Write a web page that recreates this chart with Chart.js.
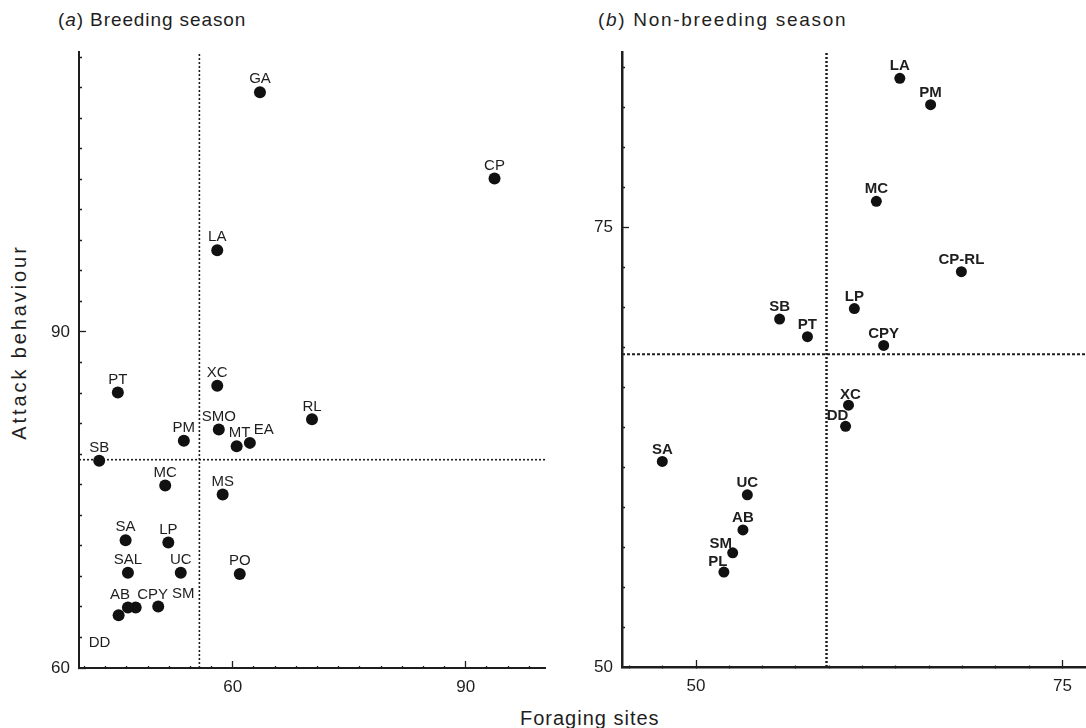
<!DOCTYPE html>
<html>
<head>
<meta charset="utf-8">
<script src="https://cdn.jsdelivr.net/npm/chart.js@4.4.1/dist/chart.umd.min.js"></script>
<style>
  body { margin: 0; background: #fff; width: 1086px; height: 728px; position: relative; overflow: hidden;
         font-family: "Liberation Sans", Arial, sans-serif; color: #1e1e1e; }
  canvas { position: absolute; top: 0; }
  #chartA { left: 0; }
  #chartB { left: 560px; }
  .txt { position: absolute; white-space: nowrap; }
  #titleA { left: 58px; top: 10px; font-size: 19px; line-height: 19px; letter-spacing: 0.9px; }
  #titleB { left: 598px; top: 10px; font-size: 19px; line-height: 19px; letter-spacing: 1.7px; }
  #xTitle { left: 520px; top: 708px; font-size: 20px; line-height: 20px; letter-spacing: 1px; }
  #yTitle { left: 19px; top: 342px; font-size: 20px; line-height: 20px; letter-spacing: 2.9px;
            transform: translate(-50%, -50%) rotate(-90deg); }
</style>
</head>
<body>
<div class="txt" id="titleA">(<i>a</i>) Breeding season</div>
<div class="txt" id="titleB">(<i>b</i>) Non-breeding season</div>
<div class="txt" id="xTitle">Foraging sites</div>
<div class="txt" id="yTitle">Attack behaviour</div>
<canvas id="chartA" width="560" height="728"></canvas>
<canvas id="chartB" width="526" height="728"></canvas>
<script>
// (a) breeding season
const speciesA = ['GA', 'CP', 'LA', 'XC', 'PT', 'RL', 'SMO', 'PM', 'MT', 'EA', 'SB',
                  'MC', 'MS', 'SA', 'LP', 'SAL', 'UC', 'PO', 'AB', 'CPY', 'SM', 'DD'];
const sitesA  = [63.5, 93.7, 58.0, 58.0, 45.2, 70.2, 58.2, 53.7, 60.5, 62.2, 42.8,
                 51.3, 58.7, 46.2, 51.7, 46.5, 53.3, 60.9, 46.5, 47.5, 50.4, 45.3];
const attackA = [111.4, 103.7, 97.3, 85.2, 84.6, 82.2, 81.3, 80.3, 79.8, 80.1, 78.5,
                 76.3, 75.5, 71.4, 71.2, 68.5, 68.5, 68.4, 65.4, 65.4, 65.5, 64.7];
const cutA = [55.7, 78.6];          // median foraging, median attack
const majorA = [60, 90];

// (b) non-breeding season
const speciesB = ['LA', 'PM', 'MC', 'CP-RL', 'LP', 'SB', 'PT', 'CPY', 'XC', 'DD',
                  'SA', 'UC', 'AB', 'SM', 'PL'];
const sitesB  = [63.9, 66.0, 62.3, 68.1, 60.8, 55.7, 57.6, 62.8, 60.4, 60.2,
                 47.7, 53.5, 53.2, 52.5, 51.9];
const attackB = [83.5, 82.0, 76.5, 72.5, 70.4, 69.8, 68.8, 68.3, 64.9, 63.7,
                 61.7, 59.8, 57.8, 56.5, 55.4];
const cutB = [58.9, 67.8];
const majorB = [50, 75];

// label nudges (px) for crowded spots
const nudgeA = { AB: [-8, 0], CPY: [17, 0], SM: [25, 0], DD: [-19, 40], MT: [3, 0], EA: [14, 0] };
const nudgeB = { DD: [-8, 2], SM: [-12, 3], PL: [-6, 2], XC: [2, 2] };

const ink = '#1e1e1e';

function tickList(major, min, max) {
  const step = (major[1] - major[0]) / 11;
  const out = [];
  for (let v = major[0]; v >= min - 1e-6; v -= step) out.push(v);
  for (let v = major[0] + step; v <= max + 1e-6; v += step) out.push(v);
  return out.sort((a, b) => a - b);
}

function isMajor(v, major) {
  return major.some(m => Math.abs(m - v) < 0.01);
}

function labelPlugin(names, nudge, font, lift) {
  return {
    id: 'pointLabels',
    afterDatasetsDraw(chart) {
      const ctx = chart.ctx;
      const meta = chart.getDatasetMeta(0);
      ctx.save();
      ctx.font = font;
      ctx.fillStyle = ink;
      ctx.textAlign = 'center';
      ctx.textBaseline = 'middle';
      meta.data.forEach((pt, i) => {
        const n = nudge[names[i]] || [0, 0];
        ctx.fillText(names[i], pt.x + n[0], pt.y - lift + n[1]);
      });
      ctx.restore();
    }
  };
}

function axis(major, min, max, horizontal, size, borderW) {
  const vals = tickList(major, min, max);
  return {
    type: 'linear',
    min: min,
    max: max,
    afterBuildTicks: s => { s.ticks = vals.map(v => ({ value: v })); },
    afterFit: s => {
      if (horizontal) s.height = size; else s.width = size;
      s.paddingLeft = s.paddingRight = s.paddingTop = s.paddingBottom = 0;
    },
    border: { color: ink, width: borderW },
    grid: {
      drawOnChartArea: false,
      tickLength: -7,
      tickColor: ink,
      tickWidth: 1.3,
      tickBorderDash: c => (c.tick && isMajor(c.tick.value, major)) ? [] : (horizontal ? [3, 100] : [0, 4, 3, 100])
    },
    ticks: {
      autoSkip: false,
      maxRotation: 0,
      padding: 16,
      color: ink,
      font: { family: '"Liberation Sans", Arial, sans-serif', size: 17 },
      callback: v => isMajor(v, major) ? String(Math.round(v)) : ''
    }
  };
}

function makeChart(id, cfg) {
  const pts = cfg.x.map((x, i) => ({ x: x, y: cfg.y[i] }));
  new Chart(document.getElementById(id), {
    type: 'scatter',
    data: {
      datasets: [
        { data: pts, pointRadius: cfg.radius, pointBackgroundColor: '#111', pointBorderWidth: 0 },
        { type: 'line', data: [{ x: cfg.cut[0], y: cfg.ymin }, { x: cfg.cut[0], y: cfg.ymax }],
          borderColor: ink, borderWidth: cfg.vWidth, borderDash: [2, 2], pointRadius: 0, fill: false },
        { type: 'line', data: [{ x: cfg.xmin, y: cfg.cut[1] }, { x: cfg.xmax, y: cfg.cut[1] }],
          borderColor: ink, borderWidth: cfg.hWidth, borderDash: cfg.hDash, pointRadius: 0, fill: false }
      ]
    },
    options: {
      responsive: false,
      animation: false,
      layout: { padding: cfg.pad, autoPadding: false },
      plugins: { legend: { display: false }, tooltip: { enabled: false } },
      scales: {
        x: axis(cfg.major, cfg.xmin, cfg.xmax, true, cfg.xh, cfg.borderW),
        y: axis(cfg.major, cfg.ymin, cfg.ymax, false, cfg.yw, cfg.borderW)
      }
    },
    plugins: [labelPlugin(cfg.names, cfg.nudge, cfg.font, cfg.lift)]
  });
}

makeChart('chartA', {
  names: speciesA, x: sitesA, y: attackA, cut: cutA, major: majorA,
  xmin: 40.2, xmax: 100.2, ymin: 60, ymax: 115,
  pad: { top: 52, right: 15, left: 0, bottom: 0 }, xh: 60, yw: 79, borderW: 2,
  radius: 6, vWidth: 1.6, hWidth: 1.6, hDash: [2, 2],
  nudge: nudgeA, font: '15px "Liberation Sans", Arial, sans-serif', lift: 13
});

makeChart('chartB', {
  names: speciesB, x: sitesB, y: attackB, cut: cutB, major: majorB,
  xmin: 44.95, xmax: 76.6, ymin: 50, ymax: 85,
  pad: { top: 52, right: 0, left: 0, bottom: 0 }, xh: 61, yw: 62, borderW: 2.5,
  radius: 5.5, vWidth: 2.5, hWidth: 2, hDash: [3, 2],
  nudge: nudgeB, font: 'bold 15px "Liberation Sans", Arial, sans-serif', lift: 12
});
</script>
</body>
</html>
